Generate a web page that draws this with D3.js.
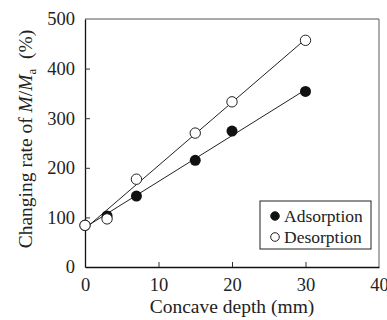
<!DOCTYPE html>
<html>
<head>
<meta charset="utf-8">
<script src="https://cdn.jsdelivr.net/npm/d3@7"></script>
<style>
  body { margin: 0; background: #fff; }
  text { font-family: "Liberation Serif", "Times New Roman", serif; fill: #222; }
</style>
</head>
<body>
<div id="chart"></div>
<script>
// concave depth (mm) and changing rate of M/Ma (%)
const depth = [0, 3, 7, 15, 20, 30];
const adsorption = [84, 103, 143, 215, 274, 354];
const desorption = [84, 97, 177, 270, 333, 457];
const xTicks = [0, 10, 20, 30, 40];
const yTicks = [0, 100, 200, 300, 400, 500];

const width = 387, height = 320;
const margin = { left: 85, right: 8, top: 19, bottom: 53 };

const svg = d3.select("#chart").append("svg")
    .attr("width", width)
    .attr("height", height);

const x = d3.scaleLinear().domain([0, 40]).range([margin.left, width - margin.right]);
const y = d3.scaleLinear().domain([0, 500]).range([height - margin.bottom, margin.top]);

// frame: bottom and left axes, lighter top/right edges
svg.append("line")
    .attr("x1", x(0)).attr("x2", x(40)).attr("y1", y(500)).attr("y2", y(500))
    .attr("stroke", "#555").attr("stroke-width", 1.2);
svg.append("line")
    .attr("x1", x(40)).attr("x2", x(40)).attr("y1", y(500)).attr("y2", y(0))
    .attr("stroke", "#777").attr("stroke-width", 1.2);

const xAxis = svg.append("g")
    .attr("transform", `translate(0,${y(0)})`)
    .call(d3.axisBottom(x).tickValues(xTicks).tickSizeInner(-5).tickSizeOuter(0).tickPadding(11));
const yAxis = svg.append("g")
    .attr("transform", `translate(${x(0)},0)`)
    .call(d3.axisLeft(y).tickValues(yTicks).tickSizeInner(-5).tickSizeOuter(0).tickPadding(10));

[xAxis, yAxis].forEach(g => {
    g.select(".domain").attr("stroke", "#111").attr("stroke-width", 1.3);
    g.selectAll(".tick line").attr("stroke", "#333");
    g.selectAll(".tick text")
        .attr("font-family", "Liberation Serif")
        .attr("font-size", 18.5)
        .attr("fill", "#222");
});
// no inner tick at the axis origin / far end
xAxis.selectAll(".tick line").filter(d => d === 0 || d === 40).remove();
yAxis.selectAll(".tick line").filter(d => d === 0 || d === 500).remove();

// least-squares lines through each series
function fit(xs, ys) {
    const mx = d3.mean(xs), my = d3.mean(ys);
    const sxy = d3.sum(xs, (v, i) => (v - mx) * (ys[i] - my));
    const sxx = d3.sum(xs, v => (v - mx) * (v - mx));
    const b = sxy / sxx;
    return { a: my - b * mx, b };
}

[adsorption, desorption].forEach(vals => {
    const f = fit(depth, vals);
    const x0 = d3.min(depth), x1 = d3.max(depth);
    svg.append("line")
        .attr("x1", x(x0)).attr("y1", y(f.a + f.b * x0))
        .attr("x2", x(x1)).attr("y2", y(f.a + f.b * x1))
        .attr("stroke", "#222").attr("stroke-width", 1);
});

// markers
svg.append("g").selectAll("circle")
    .data(depth.map((d, i) => [d, adsorption[i]]))
    .join("circle")
    .attr("cx", d => x(d[0])).attr("cy", d => y(d[1]))
    .attr("r", 5.5).attr("fill", "#111");

svg.append("g").selectAll("circle")
    .data(depth.map((d, i) => [d, desorption[i]]))
    .join("circle")
    .attr("cx", d => x(d[0])).attr("cy", d => y(d[1]))
    .attr("r", 5.2).attr("fill", "#fff").attr("stroke", "#222").attr("stroke-width", 1);

// axis titles
svg.append("text")
    .attr("x", x(20)).attr("y", 313)
    .attr("text-anchor", "middle")
    .attr("font-size", 19.5)
    .text("Concave depth (mm)");

const yt = svg.append("text")
    .attr("transform", `translate(32,${y(250) - 4}) rotate(-90)`)
    .attr("text-anchor", "middle")
    .attr("font-size", 19.5);
yt.append("tspan").text("Changing rate of ");
yt.append("tspan").attr("font-style", "italic").text("M");
yt.append("tspan").text("/");
yt.append("tspan").attr("font-style", "italic").text("M");
yt.append("tspan").attr("font-size", 13).attr("dy", 4).text("a");
yt.append("tspan").attr("dy", -4).text("\u2002(%)");

// legend
const legend = svg.append("g").attr("transform", "translate(260,201)");
legend.append("rect")
    .attr("width", 111).attr("height", 48)
    .attr("fill", "#fff").attr("stroke", "#222").attr("stroke-width", 1);
const entries = [
    { name: "Adsorption", fill: "#111" },
    { name: "Desorption", fill: "#fff" }
];
entries.forEach((e, i) => {
    const row = legend.append("g").attr("transform", `translate(0,${15 + i * 21})`);
    row.append("circle")
        .attr("cx", 15).attr("cy", 0).attr("r", 4.3)
        .attr("fill", e.fill).attr("stroke", "#222").attr("stroke-width", 1);
    row.append("text")
        .attr("x", 24).attr("y", 5.5)
        .attr("font-size", 17.5)
        .text(e.name);
});
</script>
</body>
</html>
